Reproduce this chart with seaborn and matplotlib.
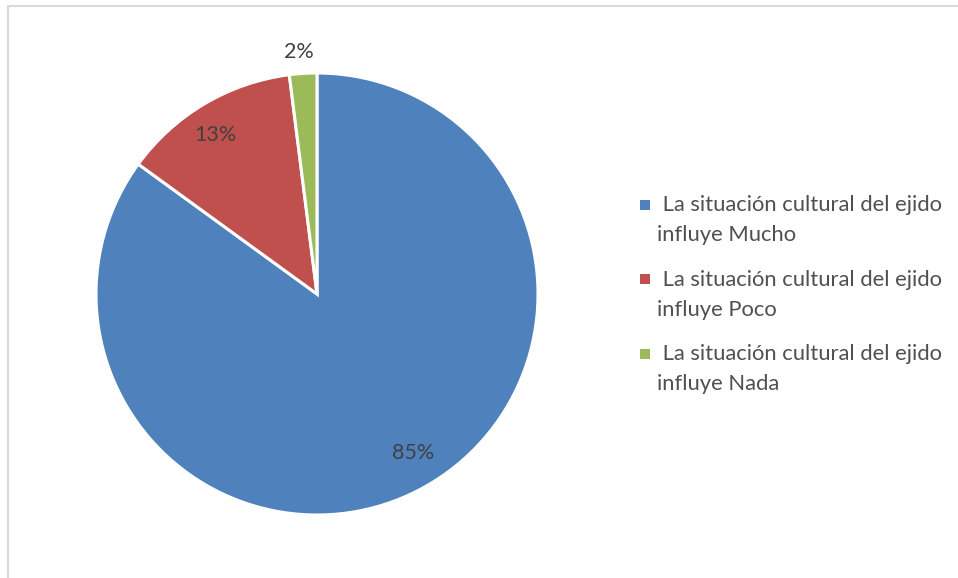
import matplotlib
matplotlib.use('Agg')
import matplotlib.pyplot as plt
import seaborn as sns
import numpy as np
from matplotlib.patches import Rectangle

# Datos del gráfico
categorias = ['La situación cultural del ejido\ninfluye Mucho',
              'La situación cultural del ejido\ninfluye Poco',
              'La situación cultural del ejido\ninfluye Nada']
valores = [85, 13, 2]
etiquetas = ['85%', '13%', '2%']
colores = ['#4F81BD', '#C0504D', '#9BBB59']

sns.set_style('white')
plt.rcParams['font.family'] = ['Lato', 'DejaVu Sans']
texto_color = '#404040'
leyenda_color = '#505050'

W, H = 958, 578
fig = plt.figure(figsize=(W / 100, H / 100), dpi=100)

# Marco gris del área del gráfico
fig.patches.append(Rectangle((8 / W, -0.05), 1.1, 1 - 6 / H + 0.05,
                             transform=fig.transFigure, fill=False,
                             edgecolor='#D9D9D9', linewidth=1.5))

# Ejes del pastel: centro (317, 294), radio 221 px
cx, cy, r = 317, 294, 221
ax = fig.add_axes([(cx - r) / W, (H - cy - r) / H, 2 * r / W, 2 * r / H])
paleta = sns.color_palette(colores)
wedges, _ = ax.pie(valores, colors=paleta, startangle=90, counterclock=False,
                   wedgeprops=dict(edgecolor='white', linewidth=2.2))
ax.set_xlim(-1, 1)
ax.set_ylim(-1, 1)
ax.set_aspect('equal')
ax.axis('off')

# Etiquetas de porcentaje (distancia al centro y pequeño giro)
distancias = [0.843, 0.853, 1.096]
giros = [4.2, 2.0, 0.7]
for w, et, d, g in zip(wedges, etiquetas, distancias, giros):
    ang = np.deg2rad((w.theta1 + w.theta2) / 2 + g)
    ax.text(d * np.cos(ang), d * np.sin(ang), et, ha='center', va='center',
            fontsize=15.5, color=texto_color, clip_on=False)

# Leyenda (cuadro alineado con la primera línea, como en Excel)
for i, (cat, col) in enumerate(zip(categorias, paleta)):
    y0 = 205 + 74.5 * i
    linea1, linea2 = cat.split('\n')
    fig.patches.append(Rectangle((640 / W, 1 - (y0 + 5) / H), 10 / W, 10 / H,
                                 transform=fig.transFigure, facecolor=col,
                                 edgecolor='none'))
    fig.text(657 / W, 1 - y0 / H, ' ' + linea1, ha='left', va='center',
             fontsize=15.8, color=leyenda_color)
    fig.text(657 / W, 1 - (y0 + 30) / H, linea2, ha='left', va='center',
             fontsize=15.8, color=leyenda_color)

fig.savefig('out.png', dpi=100)
